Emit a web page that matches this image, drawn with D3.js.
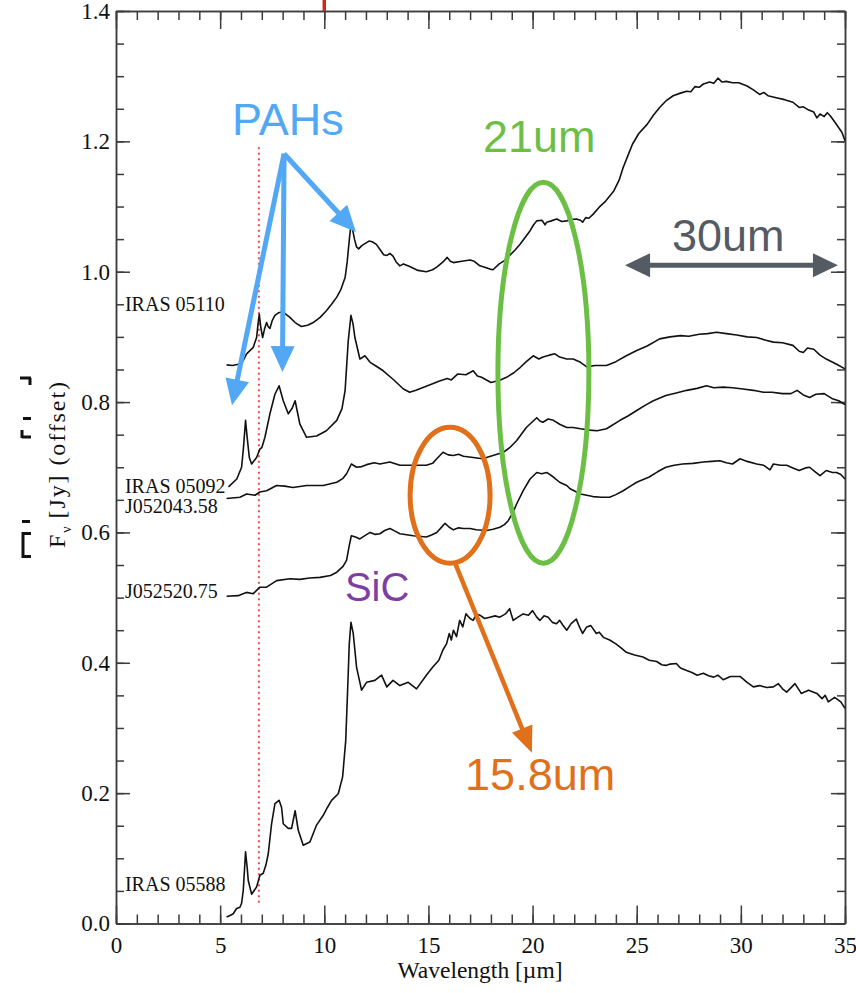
<!DOCTYPE html>
<html><head><meta charset="utf-8">
<script src="https://cdn.jsdelivr.net/npm/d3@7"></script>
<style>html,body{margin:0;padding:0;background:#fff;}svg{display:block;}</style>
</head><body><div id="chart"></div>
<script>
// ---------- DATA ----------
const seriesNames = ["IRAS 05110","IRAS 05092","J052043.58","J052520.75","IRAS 05588"];
const labelFlux = [0.9397,0.6605,0.6298,0.4994,0.0499];
const labelLambda = 0.43;

const iras05110 = [[5.31,0.857],[5.6,0.856],[5.87,0.858],[6.1,0.863],[6.27,0.874],[6.43,0.879],[6.59,0.884],[6.75,0.899],[6.82,0.92],[6.88,0.935],[6.95,0.915],[7.04,0.899],[7.13,0.912],[7.23,0.922],[7.3,0.916],[7.39,0.913],[7.5,0.925],[7.63,0.933],[7.8,0.937],[7.95,0.938],[8.15,0.935],[8.35,0.93],[8.6,0.922],[8.9,0.916],[9.2,0.918],[9.47,0.922],[9.8,0.93],[10.1,0.94],[10.35,0.95],[10.6,0.961],[10.8,0.973],[11.0,0.991],[11.1,1.015],[11.15,1.032],[11.22,1.055],[11.27,1.068],[11.35,1.066],[11.45,1.05],[11.55,1.038],[11.65,1.035],[11.8,1.04],[11.95,1.043],[12.15,1.047],[12.3,1.046],[12.5,1.042],[12.7,1.033],[12.85,1.026],[13.0,1.025],[13.15,1.028],[13.3,1.024],[13.45,1.015],[13.63,1.009],[13.8,1.012],[14.1,1.008],[14.5,1.002],[14.9,1.0],[15.2,1.003],[15.4,1.007],[15.7,1.015],[15.9,1.022],[16.05,1.016],[16.2,1.014],[16.6,1.016],[17.0,1.018],[17.2,1.016],[17.47,1.009],[17.7,1.007],[17.95,1.004],[18.1,1.003],[18.4,1.012],[18.65,1.017],[18.9,1.025],[19.15,1.033],[19.4,1.042],[19.65,1.053],[19.88,1.063],[20.05,1.072],[20.2,1.078],[20.45,1.079],[20.6,1.072],[20.68,1.076],[20.9,1.078],[21.16,1.081],[21.4,1.077],[21.64,1.078],[21.85,1.08],[22.1,1.081],[22.3,1.079],[22.4,1.076],[22.55,1.083],[22.7,1.082],[22.9,1.088],[23.2,1.099],[23.5,1.108],[23.9,1.124],[24.15,1.14],[24.35,1.16],[24.6,1.18],[24.8,1.196],[25.1,1.212],[25.5,1.226],[25.8,1.24],[26.1,1.252],[26.4,1.262],[26.75,1.27],[27.1,1.274],[27.4,1.277],[27.6,1.276],[27.8,1.284],[28.0,1.283],[28.2,1.288],[28.5,1.291],[28.7,1.289],[28.9,1.297],[29.1,1.291],[29.3,1.292],[29.6,1.29],[29.9,1.29],[30.3,1.285],[30.6,1.279],[30.9,1.272],[31.1,1.275],[31.3,1.27],[31.7,1.267],[32.1,1.264],[32.5,1.26],[32.8,1.252],[33.0,1.253],[33.2,1.249],[33.5,1.245],[33.65,1.236],[33.8,1.242],[34.0,1.238],[34.15,1.244],[34.3,1.239],[34.5,1.23],[34.7,1.221],[34.85,1.214],[35.0,1.201]];

const iras05092 = [[5.4,0.670],[5.8,0.682],[6.03,0.700],[6.12,0.73],[6.22,0.772],[6.3,0.745],[6.4,0.715],[6.51,0.705],[6.75,0.715],[6.91,0.728],[7.0,0.73],[7.15,0.746],[7.39,0.782],[7.63,0.812],[7.83,0.825],[8.03,0.802],[8.27,0.782],[8.45,0.79],[8.6,0.802],[8.83,0.766],[9.15,0.746],[9.63,0.748],[10.1,0.756],[10.6,0.772],[10.85,0.79],[11.0,0.818],[11.15,0.894],[11.28,0.933],[11.38,0.92],[11.47,0.899],[11.71,0.866],[11.95,0.871],[12.2,0.861],[12.5,0.855],[12.83,0.848],[13.3,0.835],[13.8,0.820],[14.1,0.815],[14.4,0.818],[14.8,0.823],[15.2,0.828],[15.5,0.832],[15.9,0.836],[16.1,0.834],[16.4,0.843],[16.8,0.842],[17.15,0.848],[17.35,0.84],[17.55,0.838],[18.0,0.830],[18.4,0.833],[18.75,0.838],[19.1,0.845],[19.4,0.853],[19.7,0.862],[20.03,0.871],[20.3,0.866],[20.5,0.869],[20.8,0.872],[21.07,0.874],[21.3,0.869],[21.64,0.866],[21.95,0.866],[22.3,0.861],[22.6,0.854],[23.0,0.856],[23.55,0.856],[24.0,0.862],[24.5,0.871],[25.0,0.879],[25.5,0.886],[26.1,0.897],[26.6,0.9],[27.1,0.902],[27.5,0.901],[28.0,0.904],[28.4,0.905],[28.84,0.907],[29.3,0.905],[29.8,0.903],[30.3,0.9],[30.76,0.899],[31.2,0.895],[31.56,0.892],[32.0,0.891],[32.5,0.887],[32.8,0.878],[33.0,0.876],[33.2,0.883],[33.5,0.881],[33.8,0.872],[34.1,0.866],[34.6,0.858],[35.0,0.851]];

const j052043 = [[5.31,0.652],[5.95,0.654],[6.27,0.659],[6.67,0.657],[6.91,0.662],[7.23,0.664],[7.71,0.672],[8.1,0.671],[8.5,0.669],[9.15,0.672],[9.95,0.672],[10.6,0.677],[10.9,0.683],[11.07,0.690],[11.3,0.705],[11.55,0.70],[11.8,0.701],[12.03,0.704],[12.4,0.707],[12.67,0.705],[13.15,0.708],[13.63,0.703],[14.27,0.703],[14.9,0.703],[15.2,0.706],[15.4,0.713],[15.7,0.723],[15.95,0.719],[16.2,0.718],[16.45,0.72],[16.68,0.717],[17.15,0.715],[17.6,0.713],[18.1,0.718],[18.6,0.723],[18.9,0.73],[19.24,0.741],[19.7,0.761],[20.2,0.776],[20.35,0.771],[20.5,0.769],[20.75,0.774],[21.0,0.772],[21.3,0.766],[21.64,0.761],[21.95,0.761],[22.3,0.759],[22.75,0.757],[23.1,0.756],[23.55,0.759],[24.2,0.772],[24.6,0.779],[25.0,0.787],[25.4,0.795],[25.8,0.802],[26.4,0.810],[26.9,0.814],[27.4,0.818],[27.9,0.821],[28.35,0.825],[28.7,0.822],[29.15,0.823],[29.6,0.822],[30.1,0.820],[30.6,0.818],[31.08,0.815],[31.5,0.815],[32.0,0.813],[32.4,0.813],[32.7,0.818],[33.0,0.811],[33.3,0.807],[33.6,0.812],[34.0,0.813],[34.4,0.805],[34.7,0.802],[35.0,0.796]];

const j052520 = [[5.31,0.502],[5.87,0.503],[6.1,0.506],[6.27,0.508],[6.59,0.506],[6.91,0.516],[7.23,0.516],[7.71,0.526],[8.35,0.529],[8.83,0.528],[9.3,0.530],[9.79,0.531],[10.3,0.534],[10.6,0.539],[10.9,0.548],[11.07,0.557],[11.2,0.58],[11.3,0.595],[11.5,0.593],[11.71,0.590],[11.95,0.595],[12.2,0.600],[12.45,0.597],[12.67,0.598],[12.9,0.603],[13.15,0.606],[13.4,0.602],[13.63,0.598],[14.27,0.595],[14.9,0.593],[15.15,0.596],[15.4,0.600],[15.6,0.607],[15.8,0.614],[16.0,0.608],[16.2,0.604],[16.45,0.607],[16.68,0.606],[17.0,0.606],[17.3,0.604],[17.8,0.603],[18.1,0.605],[18.43,0.608],[18.65,0.612],[18.83,0.618],[19.05,0.63],[19.24,0.644],[19.55,0.664],[19.88,0.682],[20.2,0.692],[20.44,0.690],[20.68,0.692],[21.0,0.685],[21.3,0.677],[21.64,0.672],[21.8,0.667],[22.3,0.659],[22.9,0.655],[23.3,0.654],[23.7,0.654],[24.0,0.658],[24.35,0.664],[24.7,0.671],[25.0,0.677],[25.6,0.685],[26.0,0.693],[26.4,0.700],[26.8,0.703],[27.2,0.705],[27.7,0.706],[28.2,0.708],[28.6,0.709],[29.0,0.710],[29.3,0.707],[29.6,0.705],[29.96,0.713],[30.3,0.709],[30.76,0.705],[31.1,0.703],[31.4,0.696],[31.56,0.705],[31.9,0.703],[32.2,0.703],[32.5,0.699],[32.8,0.695],[33.1,0.699],[33.3,0.700],[33.6,0.692],[33.8,0.687],[34.1,0.695],[34.4,0.692],[34.6,0.692],[34.8,0.689],[35.0,0.682]];

const iras05588 = [[5.31,0.010],[5.45,0.012],[5.63,0.015],[5.79,0.023],[5.95,0.025],[6.03,0.031],[6.11,0.051],[6.22,0.110],[6.3,0.085],[6.35,0.066],[6.51,0.045],[6.75,0.056],[6.91,0.074],[7.07,0.077],[7.2,0.09],[7.31,0.107],[7.47,0.153],[7.63,0.184],[7.83,0.189],[7.95,0.178],[8.03,0.153],[8.27,0.146],[8.43,0.146],[8.6,0.173],[8.75,0.143],[8.99,0.120],[9.31,0.125],[9.63,0.151],[9.95,0.166],[10.15,0.178],[10.35,0.189],[10.67,0.199],[10.88,0.225],[11.03,0.281],[11.12,0.358],[11.2,0.429],[11.28,0.462],[11.39,0.445],[11.55,0.393],[11.79,0.358],[12.03,0.370],[12.43,0.373],[12.75,0.381],[13.0,0.363],[13.3,0.373],[13.63,0.365],[14.03,0.370],[14.43,0.360],[14.9,0.381],[15.2,0.393],[15.5,0.404],[15.7,0.42],[15.87,0.429],[16.0,0.445],[16.1,0.435],[16.2,0.450],[16.35,0.44],[16.5,0.465],[16.65,0.455],[16.8,0.475],[17.0,0.468],[17.15,0.465],[17.3,0.475],[17.47,0.473],[17.7,0.468],[17.95,0.470],[18.2,0.472],[18.43,0.470],[18.7,0.475],[18.9,0.483],[19.0,0.472],[19.07,0.465],[19.3,0.47],[19.55,0.475],[19.8,0.473],[20.0,0.480],[20.2,0.47],[20.35,0.465],[20.55,0.472],[20.75,0.470],[20.95,0.462],[21.15,0.460],[21.3,0.465],[21.45,0.458],[21.64,0.450],[21.85,0.46],[22.1,0.467],[22.25,0.455],[22.4,0.445],[22.6,0.455],[22.8,0.457],[23.06,0.445],[23.2,0.447],[23.4,0.439],[23.7,0.435],[24.0,0.429],[24.25,0.423],[24.5,0.416],[24.9,0.412],[25.3,0.409],[25.6,0.404],[25.96,0.402],[26.2,0.397],[26.4,0.396],[26.6,0.398],[26.9,0.399],[27.1,0.392],[27.4,0.388],[27.65,0.385],[27.9,0.381],[28.2,0.384],[28.45,0.380],[28.7,0.378],[28.9,0.381],[29.15,0.374],[29.5,0.379],[29.96,0.379],[30.3,0.37],[30.6,0.363],[30.9,0.365],[31.24,0.362],[31.56,0.363],[31.8,0.368],[32.0,0.36],[32.2,0.355],[32.6,0.368],[32.9,0.353],[33.25,0.358],[33.65,0.353],[33.9,0.345],[34.05,0.350],[34.2,0.340],[34.5,0.347],[34.8,0.340],[35.0,0.330]];

const allSeries = [iras05110, iras05092, j052043, j052520, iras05588];

const xMajorTicks = [0,5,10,15,20,25,30,35];
const xTickLabels = ["0","5","10","15","20","25","30","35"];
const yMajorTicks = [0,0.2,0.4,0.6,0.8,1.0,1.2,1.4];
const yTickLabels = ["0.0","0.2","0.4","0.6","0.8","1.0","1.2","1.4"];
const xMinorStep = 1, yMinorStep = 0.05;

// annotations (data coordinates)
const dottedLine = {lambda:6.86, from:0.0315, to:1.191};
const pahArrowFrom = [8.07,1.181];
const pahArrowTips = [[5.57,0.795],[7.99,0.846],[11.52,1.061]];
const pahLabel = {text:"PAHs", at:[5.57,1.210]};
const greenEllipse = {c:[20.52,0.845], rx:2.184, ry:0.2923};
const greenLabel = {text:"21um", at:[17.62,1.184]};
const grayArrow = {from:[24.44,1.010], to:[34.66,1.010]};
const grayLabel = {text:"30um", at:[26.69,1.032]};
const orangeEllipse = {c:[16.04,0.657], rx:1.92, ry:0.1043};
const orangeArrow = {from:[16.28,0.553], to:[19.97,0.262]};
const orangeLabel = {text:"15.8um", at:[16.76,0.205]};
const sicLabel = {text:"SiC", at:[10.99,0.4955]};
const redTopMark = 10;

// ---------- DRAW ----------
const W=856,H=993;
const serif="'Liberation Serif','Times New Roman',serif";
const sans="'Liberation Sans',Arial,Helvetica,sans-serif";
const svg=d3.select("#chart").append("svg").attr("width",W).attr("height",H);
const x=d3.scaleLinear().domain([0,35]).range([116,845]);
const y=d3.scaleLinear().domain([0,1.4]).range([923.5,11]);

const xMinor=d3.range(0,35+1e-9,xMinorStep);
const yMinor=d3.range(0,1.4+1e-9,yMinorStep).map(v=>+v.toFixed(2));
const axCol="#3c3c3c";
function sty(g){g.selectAll("path,line").attr("stroke",axCol).attr("stroke-width",1.5);g.attr("font-family",serif).attr("font-size",23);g.selectAll("text").attr("fill","#111");}

// bottom
svg.append("g").attr("transform",`translate(0,${y(0)})`).call(d3.axisBottom(x).tickValues(xMinor).tickSize(-9).tickSizeOuter(0).tickFormat("")).call(sty);
svg.append("g").attr("transform",`translate(0,${y(0)})`).call(d3.axisBottom(x).tickValues(xMajorTicks).tickSize(-18).tickSizeOuter(0).tickPadding(13).tickFormat((d,i)=>xTickLabels[i])).call(sty);
// top
svg.append("g").attr("transform",`translate(0,${y(1.4)})`).call(d3.axisTop(x).tickValues(xMinor).tickSize(-9).tickSizeOuter(0).tickFormat("")).call(sty);
svg.append("g").attr("transform",`translate(0,${y(1.4)})`).call(d3.axisTop(x).tickValues(xMajorTicks).tickSize(-18).tickSizeOuter(0).tickFormat("")).call(sty);
// left
svg.append("g").attr("transform",`translate(${x(0)},0)`).call(d3.axisLeft(y).tickValues(yMinor).tickSize(-8).tickSizeOuter(0).tickFormat("")).call(sty);
svg.append("g").attr("transform",`translate(${x(0)},0)`).call(d3.axisLeft(y).tickValues(yMajorTicks).tickSize(-14).tickSizeOuter(0).tickPadding(6).tickFormat((d,i)=>yTickLabels[i])).call(sty);
// right
svg.append("g").attr("transform",`translate(${x(35)},0)`).call(d3.axisRight(y).tickValues(yMinor).tickSize(-8).tickSizeOuter(0).tickFormat("")).call(sty);
svg.append("g").attr("transform",`translate(${x(35)},0)`).call(d3.axisRight(y).tickValues(yMajorTicks).tickSize(-14).tickSizeOuter(0).tickFormat("")).call(sty);

// red top mark
svg.append("line").attr("x1",x(redTopMark)).attr("x2",x(redTopMark)).attr("y1",0).attr("y2",y(1.4)).attr("stroke","#d0281a").attr("stroke-width",3.5);

// dotted red line
svg.append("line").attr("x1",x(dottedLine.lambda)).attr("x2",x(dottedLine.lambda)).attr("y1",y(dottedLine.to)).attr("y2",y(dottedLine.from))
  .attr("stroke","#f44a4a").attr("stroke-width",2).attr("stroke-dasharray","2,3.5");

// spectra
const line=d3.line().x(d=>x(d[0])).y(d=>y(d[1]));
svg.append("g").selectAll("path").data(allSeries).join("path").attr("d",line).attr("fill","none").attr("stroke","#111").attr("stroke-width",1.6).attr("stroke-linejoin","round");

// series labels
svg.append("g").selectAll("text").data(seriesNames).join("text")
  .attr("x",x(labelLambda)).attr("y",(d,i)=>y(labelFlux[i])).text(d=>d)
  .attr("font-family",serif).attr("font-size",20).attr("fill","#111");

// axis titles
svg.append("text").attr("x",480).attr("y",978).attr("text-anchor","middle").attr("font-family",serif).attr("font-size",23.5).attr("fill","#111").text("Wavelength [µm]");
const yl=svg.append("text").attr("transform","translate(65,465) rotate(-90)").attr("text-anchor","middle").attr("font-family",serif).attr("font-size",24).attr("fill","#111")
  .attr("textLength",166).attr("lengthAdjust","spacing");
yl.append("tspan").text("F");
yl.append("tspan").attr("dy",6).attr("font-size",14).text("ν");
yl.append("tspan").attr("dy",-6).attr("dx",6).text("[Jy] (offset)");

// left edge artifacts
const leftMarks=[[20,378,31,378],[30,378,30,385],[23,418.5,31,418.5],[22,430,22,438],[22,437,31,437],[22,521.5,30,521.5],[23,532,23,558],[23,533.5,31,533.5],[23,556.5,31,556.5]];
svg.append("g").selectAll("line").data(leftMarks).join("line").attr("x1",d=>d[0]).attr("y1",d=>d[1]).attr("x2",d=>d[2]).attr("y2",d=>d[3]).attr("stroke","#111").attr("stroke-width",3);

// arrows
function arrow(g,p1,p2,color,w,hl,hw,both){
  const X1=x(p1[0]),Y1=y(p1[1]),X2=x(p2[0]),Y2=y(p2[1]);
  const dx=X2-X1,dy=Y2-Y1,L=Math.hypot(dx,dy),ux=dx/L,uy=dy/L;
  const sx=both?X1+ux*hl*0.9:X1, sy=both?Y1+uy*hl*0.9:Y1;
  g.append("line").attr("x1",sx).attr("y1",sy).attr("x2",X2-ux*hl*0.9).attr("y2",Y2-uy*hl*0.9).attr("stroke",color).attr("stroke-width",w);
  const head=(tx,ty,vx,vy)=>`M${tx},${ty}L${tx-vx*hl+(-vy)*hw/2},${ty-vy*hl+vx*hw/2}L${tx-vx*hl-(-vy)*hw/2},${ty-vy*hl-vx*hw/2}Z`;
  g.append("path").attr("d",head(X2,Y2,ux,uy)).attr("fill",color);
  if(both) g.append("path").attr("d",head(X1,Y1,-ux,-uy)).attr("fill",color);
}
const ann=svg.append("g");
const blue="#52a8f5", green="#6cbf45", gray="#555b63", orange="#e0701a", purple="#7d3fa3";
pahArrowTips.forEach(t=>arrow(ann,pahArrowFrom,t,blue,5,26,24,false));
arrow(ann,grayArrow.from,grayArrow.to,gray,5,25,24,true);
ann.append("ellipse").attr("cx",x(greenEllipse.c[0])).attr("cy",y(greenEllipse.c[1]))
  .attr("rx",x(greenEllipse.rx)-x(0)).attr("ry",y(0)-y(greenEllipse.ry)).attr("fill","none").attr("stroke",green).attr("stroke-width",5);
ann.append("ellipse").attr("cx",x(orangeEllipse.c[0])).attr("cy",y(orangeEllipse.c[1]))
  .attr("rx",x(orangeEllipse.rx)-x(0)).attr("ry",y(0)-y(orangeEllipse.ry)).attr("fill","none").attr("stroke",orange).attr("stroke-width",5);
arrow(ann,orangeArrow.from,orangeArrow.to,orange,4.5,26,22,false);

const texts=[[pahLabel,blue,45],[greenLabel,green,45],[grayLabel,gray,45],[orangeLabel,orange,45],[sicLabel,purple,40]];
ann.selectAll("text").data(texts).join("text").attr("x",d=>x(d[0].at[0])).attr("y",d=>y(d[0].at[1]))
  .attr("font-family",sans).attr("font-size",d=>d[2]).attr("fill",d=>d[1]).text(d=>d[0].text);
</script></body></html>
